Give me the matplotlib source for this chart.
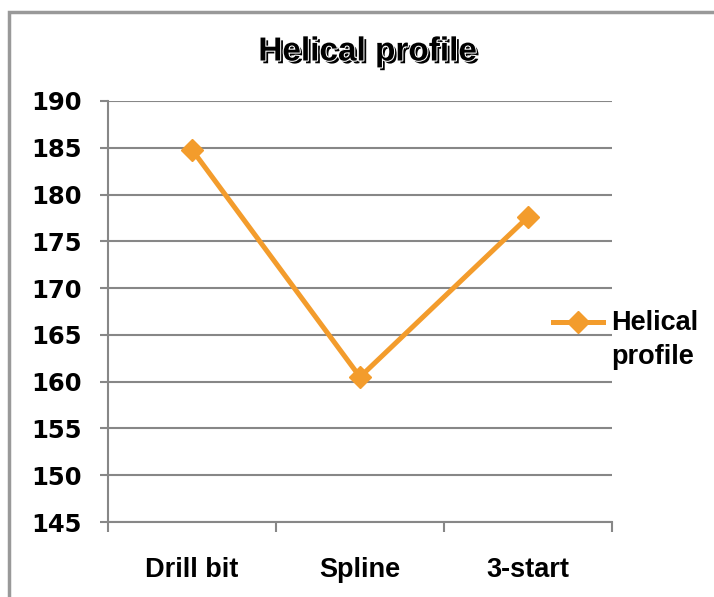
import matplotlib
matplotlib.use('Agg')
import matplotlib.pyplot as plt
import matplotlib.patheffects as pe
from matplotlib.patches import Rectangle
from matplotlib.lines import Line2D

# Data
categories = ['Drill bit', 'Spline', '3-start']
values = [184.8, 160.5, 177.6]
yticks = [145, 150, 155, 160, 165, 170, 175, 180, 185, 190]
series_name = 'Helical\nprofile'

orange = '#F39C2C'
grid = '#878787'

plt.rcParams['font.family'] = ['Liberation Sans', 'DejaVu Sans']
plt.rcParams['font.weight'] = 'bold'

fig = plt.figure(figsize=(7.14, 5.97), dpi=100)
ax = fig.add_axes([108/714, 1-522/597, 504/714, 421/597])

# outer chart border
fig.patches.append(Rectangle((9/714, -0.1), 1.2, 1-12/597+0.1, transform=fig.transFigure,
                             fill=False, edgecolor='#999999', lw=2.5))

x = range(len(categories))
ax.plot(x, values, '-D', color=orange, lw=3.6, ms=11)

ax.set_xlim(-0.5, 2.5)
ax.set_ylim(145, 190)
ax.set_yticks(yticks)
ax.set_yticklabels([str(v) for v in yticks], family='DejaVu Sans', fontsize=17.5)
ax.set_xticks(list(x))
ax.set_xticklabels(categories)
ax.set_xticks([-0.5, 0.5, 1.5, 2.5], minor=True)
ax.tick_params(axis='x', which='major', length=0, pad=25, labelsize=19.5)
ax.tick_params(axis='x', which='minor', length=7, width=1.5, color=grid, direction='out')
ax.tick_params(axis='y', length=6, width=1.5, color=grid, direction='out', pad=13)
ax.grid(axis='y', color=grid, lw=1.5)
ax.set_axisbelow(True)
for s in ['top', 'right']:
    ax.spines[s].set_visible(False)
for s in ['left', 'bottom']:
    ax.spines[s].set_color(grid)
    ax.spines[s].set_linewidth(1.5)

fig.text(368/714, 1-52/597, 'Helical profile', ha='center', va='center', fontsize=24,
         fontweight='bold',
         path_effects=[pe.SimplePatchShadow(offset=(2, -2), shadow_rgbFace='black', alpha=1),
                       pe.Stroke(linewidth=1.5, foreground='white'), pe.Normal()])

# legend (handle sits level with the first text line)
ly = 1 - 322/597
fig.add_artist(Line2D([553/714, 603/714], [ly, ly], transform=fig.transFigure,
                      color=orange, lw=3.6))
fig.add_artist(Line2D([578/714], [ly], transform=fig.transFigure,
                      color=orange, marker='D', ms=11, lw=0))
fig.text(611/714, 1-310/597, series_name, ha='left', va='top', fontsize=19.5,
         fontweight='bold', linespacing=1.38)

fig.savefig('out.png', dpi=100)
plt.close()
